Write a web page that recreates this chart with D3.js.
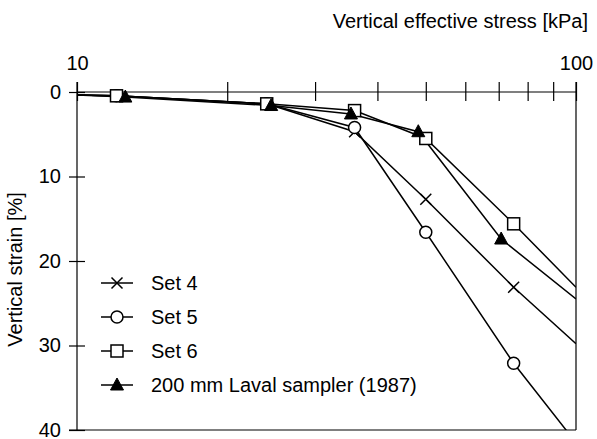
<!DOCTYPE html>
<html>
<head>
<meta charset="utf-8">
<script src="https://cdn.jsdelivr.net/npm/d3@7"></script>
<style>
body { margin: 0; background: #fff; }
text { font-family: "Liberation Sans", Arial, sans-serif; fill: #000; }
</style>
</head>
<body>
<svg width="597" height="439"></svg>
<script>
// Data (stress in kPa, strain in %)
const set4Stress = [10, 12, 24, 36, 50, 75, 100];
const set4Strain = [0.35, 0.45, 1.4, 4.7, 12.7, 23.1, 29.8];
const set5Stress = [10, 12, 24, 36, 50, 75, 100];
const set5Strain = [0.35, 0.45, 1.4, 4.2, 16.6, 32.1, 41.5];
const set6Stress = [10, 12, 24, 36, 50, 75, 100];
const set6Strain = [0.35, 0.45, 1.4, 2.2, 5.5, 15.6, 23.1];
const lavalStress = [10, 12.5, 24.5, 35.4, 48.3, 70.8, 100];
const lavalStrain = [0.35, 0.6, 1.6, 2.6, 4.7, 17.4, 24.5];

const seriesNames = ["Set 4", "Set 5", "Set 6", "200 mm Laval sampler (1987)"];
const seriesMarkers = ["cross", "circle", "square", "triangle"];
const xTicks = [10, 20, 30, 40, 50, 60, 70, 80, 90, 100];
const xTickLabels = [10, 100];
const yTicks = [0, 10, 20, 30, 40];

const series = [
    { name: seriesNames[0], marker: seriesMarkers[0], x: set4Stress, y: set4Strain },
    { name: seriesNames[1], marker: seriesMarkers[1], x: set5Stress, y: set5Strain },
    { name: seriesNames[2], marker: seriesMarkers[2], x: set6Stress, y: set6Strain },
    { name: seriesNames[3], marker: seriesMarkers[3], x: lavalStress, y: lavalStrain }
];

// Set up dimensions
const margin = { top: 92, right: 21, bottom: 9, left: 77 };
const width = 597 - margin.left - margin.right;
const height = 439 - margin.top - margin.bottom;

const svg = d3.select("svg")
    .append("g")
    .attr("transform", `translate(${margin.left}, ${margin.top})`);

const xScale = d3.scaleLog().domain([10, 100]).range([0, width]);
const yScale = d3.scaleLinear().domain([0, 40]).range([0, height]);

// Clip for the data lines
svg.append("clipPath").attr("id", "plot-clip")
    .append("rect").attr("width", width).attr("height", height);

// Top axis (log)
const xAxis = svg.append("g")
    .call(d3.axisTop(xScale).tickValues(xTicks).tickSize(9)
        .tickFormat(d => xTickLabels.includes(d) ? d : ""));
xAxis.select(".domain").remove();
xAxis.selectAll(".tick line").attr("y1", -10).attr("y2", 9).attr("stroke-width", 1.2);
xAxis.selectAll(".tick text")
    .attr("y", -22)
    .style("font-size", "20px")
    .style("font-family", "'Liberation Sans', Arial, sans-serif");

// Left axis
const yAxis = svg.append("g")
    .call(d3.axisLeft(yScale).tickValues(yTicks).tickSize(8));
yAxis.select(".domain").remove();
yAxis.selectAll(".tick line").attr("x1", -8).attr("x2", 8).attr("stroke-width", 1.2);
yAxis.selectAll(".tick text")
    .attr("x", -16)
    .style("font-size", "20px")
    .style("font-family", "'Liberation Sans', Arial, sans-serif");

// Frame
svg.append("line").attr("x1", 0).attr("x2", width).attr("y1", 0).attr("y2", 0)
    .attr("stroke", "#000").attr("stroke-width", 1.2);
svg.append("line").attr("x1", 0).attr("x2", 0).attr("y1", -10).attr("y2", height)
    .attr("stroke", "#000").attr("stroke-width", 1.2);
svg.append("line").attr("x1", -8).attr("x2", width).attr("y1", height).attr("y2", height)
    .attr("stroke", "#000").attr("stroke-width", 1.2);
svg.append("line").attr("x1", width).attr("x2", width).attr("y1", -10).attr("y2", height)
    .attr("stroke", "#000").attr("stroke-width", 1.2);

// Axis titles
svg.append("text")
    .attr("x", width + 12)
    .attr("y", -64)
    .attr("text-anchor", "end")
    .style("font-size", "20px")
    .text("Vertical effective stress [kPa]");

svg.append("text")
    .attr("transform", `translate(-55, ${yScale(21)}) rotate(-90)`)
    .attr("text-anchor", "middle")
    .style("font-size", "20px")
    .text("Vertical strain [%]");

// Marker drawing
function drawMarker(g, type, cx, cy) {
    if (type === "cross") {
        g.append("path")
            .attr("d", `M${cx - 5.5},${cy - 5.5}L${cx + 5.5},${cy + 5.5}M${cx - 5.5},${cy + 5.5}L${cx + 5.5},${cy - 5.5}`)
            .attr("stroke", "#000").attr("stroke-width", 1.5).attr("fill", "none");
    } else if (type === "circle") {
        g.append("circle").attr("cx", cx).attr("cy", cy).attr("r", 6)
            .attr("stroke", "#000").attr("stroke-width", 1.5).attr("fill", "#fff");
    } else if (type === "square") {
        g.append("rect").attr("x", cx - 6).attr("y", cy - 6).attr("width", 12).attr("height", 12)
            .attr("stroke", "#000").attr("stroke-width", 1.5).attr("fill", "#fff");
    } else {
        g.append("path")
            .attr("d", `M${cx},${cy - 7}L${cx + 6.5},${cy + 5}L${cx - 6.5},${cy + 5}Z`)
            .attr("fill", "#000").attr("stroke", "#000").attr("stroke-width", 1);
    }
}

const line = d3.line()
    .x(d => xScale(d[0]))
    .y(d => yScale(d[1]));

// Lines
series.forEach(s => {
    const pts = s.x.map((v, i) => [v, s.y[i]]);
    svg.append("path")
        .datum(pts)
        .attr("clip-path", "url(#plot-clip)")
        .attr("fill", "none")
        .attr("stroke", "#000")
        .attr("stroke-width", 1.5)
        .attr("d", line);
});

// Markers (only inside the plotted range)
series.forEach(s => {
    const g = svg.append("g");
    s.x.forEach((v, i) => {
        if (v > 10 && v < 100) drawMarker(g, s.marker, xScale(v), yScale(s.y[i]));
    });
});

// Legend
const legend = svg.append("g").attr("transform", "translate(24, 191)");
series.forEach((s, i) => {
    const ly = i * 34;
    legend.append("line").attr("x1", 0).attr("x2", 32).attr("y1", ly).attr("y2", ly)
        .attr("stroke", "#000").attr("stroke-width", 1.5);
    drawMarker(legend, s.marker, 16, ly);
    legend.append("text").attr("x", 50).attr("y", ly + 7)
        .style("font-size", "20px")
        .text(s.name);
});
</script>
</body>
</html>
